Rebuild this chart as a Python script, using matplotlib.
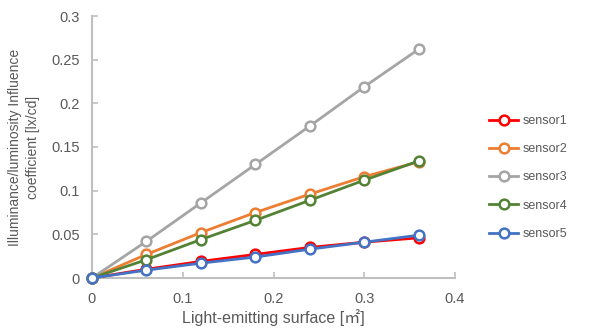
import matplotlib
matplotlib.use("Agg")
import matplotlib.pyplot as plt

plt.rcParams['font.family'] = ['Liberation Sans', 'Noto Sans CJK JP', 'DejaVu Sans']

# light-emitting surface [m2]
area = [0, 0.06, 0.12, 0.18, 0.24, 0.30, 0.36]

sensor1 = [0, 0.010, 0.019, 0.027, 0.035, 0.041, 0.046]
sensor2 = [0, 0.027, 0.052, 0.075, 0.096, 0.116, 0.133]
sensor3 = [0, 0.042, 0.086, 0.130, 0.174, 0.219, 0.262]
sensor4 = [0, 0.021, 0.044, 0.066, 0.089, 0.112, 0.134]
sensor5 = [0, 0.009, 0.017, 0.024, 0.033, 0.041, 0.049]

names = ["sensor1", "sensor2", "sensor3", "sensor4", "sensor5"]
colors = ["#FF0000", "#ED7D31", "#A5A5A5", "#548235", "#4472C4"]

grey = "#595959"

fig = plt.figure(figsize=(6.01, 3.33), dpi=100)
ax = fig.add_axes([92/601, 55/333, (455-92)/601, (278-16)/333])

for name, ys, c in zip(names, [sensor1, sensor2, sensor3, sensor4, sensor5], colors):
    ax.plot(area, ys, color=c, lw=2, marker="o", ms=7, mfc="white",
            mec=c, mew=1.8, label=name, clip_on=False, zorder=3)

ax.set_xlim(0, 0.4)
ax.set_ylim(0, 0.3)
ax.set_xticks([0, 0.1, 0.2, 0.3, 0.4])
ax.set_xticklabels(["0", "0.1", "0.2", "0.3", "0.4"])
ax.set_yticks([0, 0.05, 0.1, 0.15, 0.2, 0.25, 0.3])
ax.set_yticklabels(["0", "0.05", "0.1", "0.15", "0.2", "0.25", "0.3"])

for s in ["top", "right"]:
    ax.spines[s].set_visible(False)
for s in ["left", "bottom"]:
    ax.spines[s].set_color("#BFBFBF")
    ax.spines[s].set_linewidth(1.5)
ax.tick_params(direction="in", length=4, width=1.2, color="#BFBFBF",
               labelcolor=grey, labelsize=10.5)
ax.tick_params(axis="x", pad=10)
ax.tick_params(axis="y", pad=9)

ax.set_xlabel("Light-emitting surface [㎡]", fontsize=11.5, color=grey, labelpad=2)
ax.set_ylabel("Illuminance/luminosity Influence\ncoefficient [lx/cd]",
              fontsize=10, color=grey, labelpad=8, linespacing=1.3)

leg = fig.legend(loc="center left", bbox_to_anchor=(478/601, 0.467), frameon=False,
                 fontsize=9, labelspacing=1.3, handlelength=2.3, handletextpad=0.4)
for t in leg.get_texts():
    t.set_color(grey)

fig.savefig("out.png", dpi=100)
